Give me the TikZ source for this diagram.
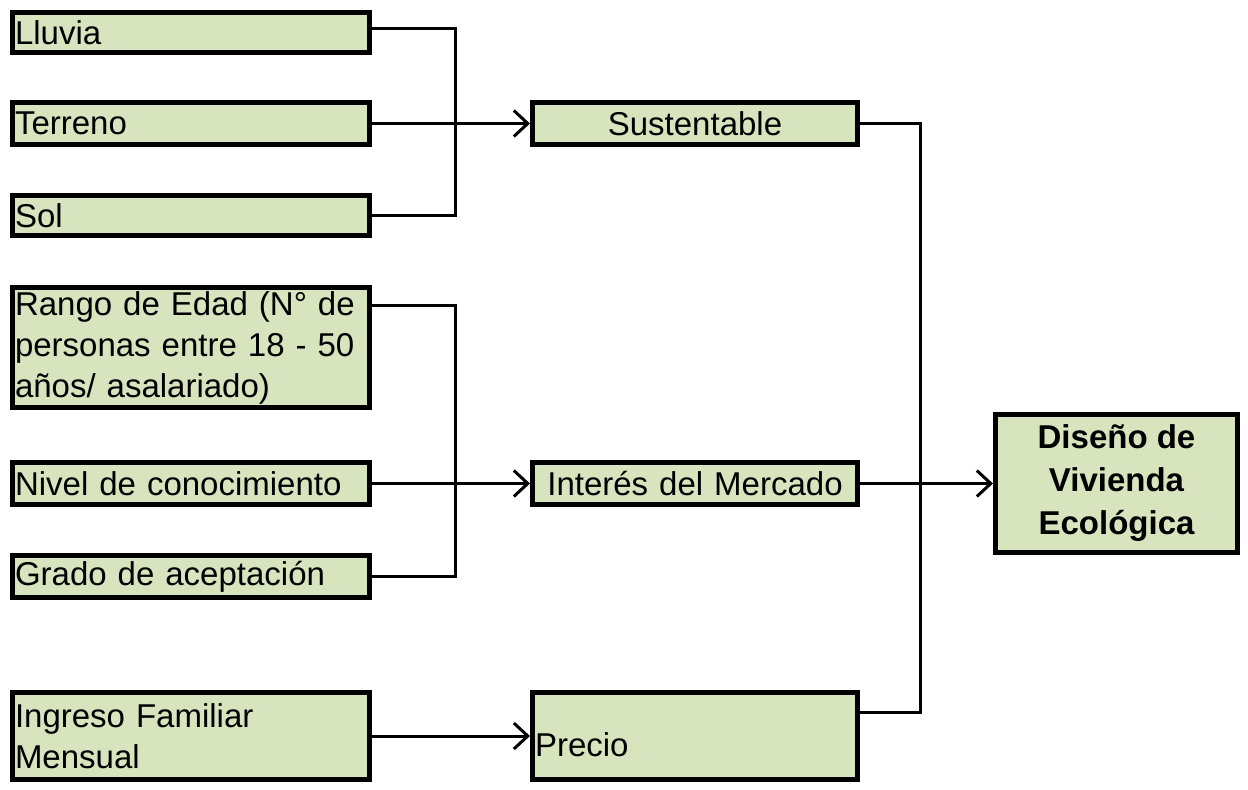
\documentclass[tikz,border=0pt]{standalone}
\usepackage{fontspec}
\setmainfont{Liberation Sans}
\usetikzlibrary{arrows.meta}
\definecolor{boxgreen}{HTML}{D7E4BD}
\begin{document}
\begin{tikzpicture}[x=0.5pt,y=-0.5pt,
  caja/.style={draw,line width=2.5pt,fill=boxgreen,inner xsep=0.5pt,inner ysep=0pt,
    font=\fontsize{16.5}{20.5}\selectfont},
  izq/.style={caja,minimum width=178.5pt,text width=176pt,align=left},
  medio/.style={caja,minimum width=162.5pt,text width=160pt,align=center},
  linea/.style={line width=1.5pt},
  flecha/.style={linea,-{Straight Barb[length=7pt,width=13pt]}}]
\useasboundingbox (0,0) rectangle (1248,789);

\node [izq,minimum height=20pt] (lluvia) at (191,32.5) {Lluvia};
\node [izq,minimum height=21pt] (terreno) at (191,123.5) {Terreno};
\node [izq,minimum height=20pt] (sol) at (191,215.5) {Sol};
\node [izq,minimum height=60pt] (rango) at (191,347.5) {Rango de Edad (N° de\\personas entre 18 - 50\\años/ asalariado)};
\node [izq,minimum height=21pt] (nivel) at (191,483.5) {Nivel de conocimiento};
\node [izq,minimum height=21pt] (grado) at (191,576.5) {Grado de aceptación};
\node [izq,minimum height=43.5pt] (ingreso) at (191,736) {Ingreso Familiar\\Mensual};

\node [medio,minimum height=21pt] (sustentable) at (695,123.5) {Sustentable};
\node [medio,minimum height=21pt] (interes) at (695,483.5) {Interés del Mercado};
\node [medio,minimum height=43.5pt,align=left] (precio) at (695,736) {\mbox{}\\Precio};
\node [caja,minimum width=121pt,minimum height=69pt,align=center,
  font=\bfseries\fontsize{16.5}{21.5}\selectfont] (diseno) at (1116.5,483.5) {Diseño de\\Vivienda\\Ecológica};

\coordinate (uneA) at (455,0);
\coordinate (uneB) at (920,0);
\coordinate (saleLluvia) at ([yshift=2pt]lluvia.east);
\coordinate (saleRango) at ([yshift=-10pt]rango.north east);
\coordinate (entraPrecio) at ([yshift=12pt]precio.east);

\draw [linea] (saleLluvia) -| (uneA |- sol.east) -- (sol.east);
\draw [linea] (saleRango) -| (uneA |- grado.east) -- (grado.east);
\draw [linea] (sustentable.east) -| (uneB |- entraPrecio) -- (entraPrecio);

\draw [flecha] (terreno.east) -- (sustentable.west);
\draw [flecha] (nivel.east) -- (interes.west);
\draw [flecha] (ingreso.east) -- (precio.west);
\draw [flecha] (interes.east) -- (diseno.west);
\end{tikzpicture}
\end{document}
